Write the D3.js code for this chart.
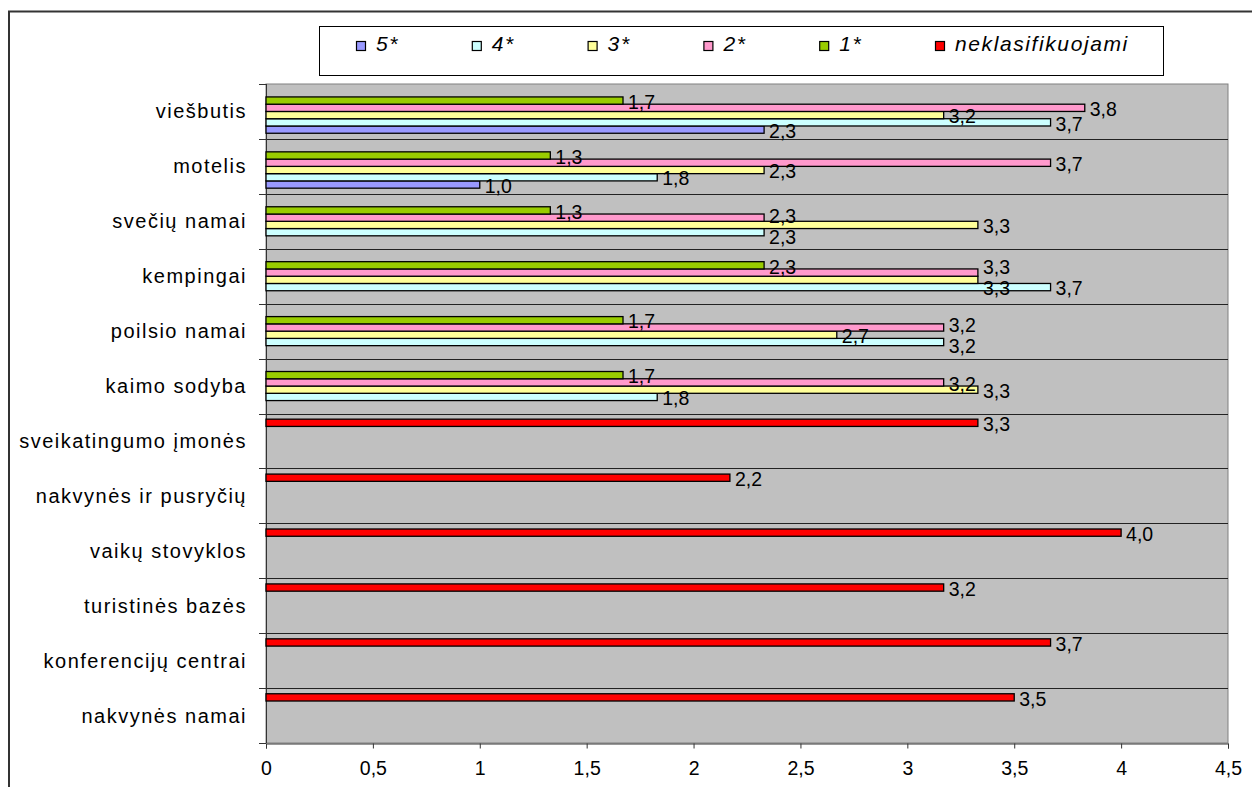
<!DOCTYPE html>
<html>
<head>
<meta charset="utf-8">
<script src="https://cdn.jsdelivr.net/npm/d3@7"></script>
<style>
  html, body { margin: 0; padding: 0; background: #fff; }
  svg { display: block; font-family: "Liberation Sans", Arial, sans-serif; }
</style>
</head>
<body>
<svg id="chart" width="1252" height="787"></svg>
<script>
// ---- data ----
const categories = ["viešbutis", "motelis", "svečių namai", "kempingai", "poilsio namai", "kaimo sodyba",
  "sveikatingumo įmonės", "nakvynės ir pusryčių", "vaikų stovyklos", "turistinės bazės",
  "konferencijų centrai", "nakvynės namai"];
const seriesNames = ["5*", "4*", "3*", "2*", "1*", "neklasifikuojami"];
const seriesColors = ["#9999FF", "#CCFFFF", "#FFFF99", "#FF99CC", "#99CC00", "#FF0000"];
const s5 = [2.33, 1.0, null, null, null, null, null, null, null, null, null, null];
const s4 = [3.67, 1.83, 2.33, 3.67, 3.17, 1.83, null, null, null, null, null, null];
const s3 = [3.17, 2.33, 3.33, 3.33, 2.67, 3.33, null, null, null, null, null, null];
const s2 = [3.83, 3.67, 2.33, 3.33, 3.17, 3.17, null, null, null, null, null, null];
const s1 = [1.67, 1.33, 1.33, 2.33, 1.67, 1.67, null, null, null, null, null, null];
const sN = [null, null, null, null, null, null, 3.33, 2.17, 4.0, 3.17, 3.67, 3.5];
const xTicks = [0, 0.5, 1, 1.5, 2, 2.5, 3, 3.5, 4, 4.5];

const seriesValues = [s5, s4, s3, s2, s1, sN];

// ---- layout ----
const svg = d3.select("#chart");
const plot = { left: 266, right: 1228, top: 84, bottom: 743 };

const x = d3.scaleLinear().domain([0, 4.5]).range([plot.left, plot.right]);
const y = d3.scaleBand().domain(categories).range([plot.top, plot.bottom]).paddingInner(0).paddingOuter(0);
// within each category: top slot = last series (neklasifikuojami), bottom = 5*
const slotOrder = seriesNames.slice().reverse();
const ySub = d3.scaleBand().domain(slotOrder).range([0, y.bandwidth()]).paddingInner(0).paddingOuter(0.78);

const fmt = v => d3.format(".1f")(v).replace(".", ",");

// outer chart border
svg.append("path")
  .attr("d", `M9,800 L9,11.5 L1260,11.5`)
  .attr("fill", "none").attr("stroke", "#333").attr("stroke-width", 2);

// plot background
svg.append("rect")
  .attr("x", plot.left).attr("y", plot.top)
  .attr("width", plot.right - plot.left).attr("height", plot.bottom - plot.top)
  .attr("fill", "#C0C0C0").attr("stroke", "#808080").attr("stroke-width", 1);

// horizontal gridlines at category boundaries
const boundaries = categories.map(c => y(c)).concat([plot.bottom]);
svg.append("g").selectAll("line").data(boundaries.slice(1, -1)).join("line")
  .attr("x1", plot.left).attr("x2", plot.right)
  .attr("y1", d => Math.round(d) + 0.5).attr("y2", d => Math.round(d) + 0.5)
  .attr("stroke", "#222").attr("stroke-width", 1);

// y axis line and ticks
svg.append("line")
  .attr("x1", plot.left + 0.5).attr("x2", plot.left + 0.5)
  .attr("y1", plot.top).attr("y2", plot.bottom)
  .attr("stroke", "#333");
svg.append("g").selectAll("line").data(boundaries).join("line")
  .attr("x1", plot.left - 7).attr("x2", plot.left)
  .attr("y1", d => Math.round(d) + 0.5).attr("y2", d => Math.round(d) + 0.5)
  .attr("stroke", "#333");

// category labels
svg.append("g").selectAll("text").data(categories).join("text")
  .attr("x", 247)
  .attr("y", d => y(d) + y.bandwidth() / 2)
  .attr("dy", "0.35em")
  .attr("text-anchor", "end")
  .attr("font-size", 20)
  .attr("letter-spacing", 1.5)
  .attr("fill", "#000")
  .text(d => d);

// x axis
const xAxis = d3.axisBottom(x).tickValues(xTicks).tickSize(5).tickPadding(13).tickFormat(d => String(d).replace(".", ","));
const gx = svg.append("g").attr("transform", `translate(0,${plot.bottom + 0.5})`).call(xAxis);
gx.select(".domain").attr("stroke", "#333");
gx.selectAll(".tick line").attr("stroke", "#333");
gx.selectAll(".tick text").attr("font-size", 19.5).attr("font-family", "Liberation Sans, Arial, sans-serif").attr("fill", "#000");

// bars
const barData = [];
seriesNames.forEach((s, si) => {
  seriesValues[si].forEach((v, ci) => {
    if (v != null) barData.push({ series: s, si, cat: categories[ci], value: v });
  });
});

svg.append("g").selectAll("rect").data(barData).join("rect")
  .attr("x", x(0))
  .attr("y", d => y(d.cat) + ySub(d.series))
  .attr("width", d => x(d.value) - x(0))
  .attr("height", ySub.bandwidth())
  .attr("fill", d => seriesColors[d.si])
  .attr("stroke", "#000").attr("stroke-width", 1.3);

// value labels with simple dodge inside each category
const valueFont = 19.5;
const labelH = 21;
const labels = barData.map(d => ({
  ...d,
  lx: x(d.value) + 5,
  w: fmt(d.value).length * valueFont * 0.47,
  cy: y(d.cat) + ySub(d.series) + ySub.bandwidth() / 2
}));
categories.forEach(c => {
  const group = labels.filter(l => l.cat === c).sort((a, b) => a.cy - b.cy);
  for (let iter = 0; iter < 60; iter++) {
    let moved = false;
    for (let i = 0; i < group.length; i++) {
      for (let j = i + 1; j < group.length; j++) {
        const a = group[i], b = group[j];
        const xOverlap = a.lx < b.lx + b.w && b.lx < a.lx + a.w;
        const dy = b.cy - a.cy;
        if (xOverlap && dy < labelH) {
          const push = (labelH - dy) / 2 + 0.01;
          a.cy -= push; b.cy += push; moved = true;
        }
      }
    }
    if (!moved) break;
  }
});

svg.append("g").selectAll("text").data(labels).join("text")
  .attr("x", d => d.lx)
  .attr("y", d => d.cy)
  .attr("dy", "0.42em")
  .attr("font-size", valueFont)
  .attr("fill", "#000")
  .text(d => fmt(d.value));

// legend
const legend = svg.append("g");
legend.append("rect")
  .attr("x", 319.5).attr("y", 26.5).attr("width", 844).attr("height", 49)
  .attr("fill", "#fff").attr("stroke", "#000").attr("stroke-width", 1);
const lx = d3.scaleLinear().domain([0, seriesNames.length - 1]).range([356, 935]);
const items = legend.selectAll("g.item").data(seriesNames).join("g").attr("class", "item")
  .attr("transform", (d, i) => `translate(${lx(i)},0)`);
items.append("rect")
  .attr("x", 0.5).attr("y", 41.5).attr("width", 9).attr("height", 9)
  .attr("fill", (d, i) => seriesColors[i]).attr("stroke", "#000").attr("stroke-width", 1.2);
items.append("text")
  .attr("x", 20).attr("y", 51)
  .attr("font-size", 21).attr("font-style", "italic").attr("letter-spacing", 1.6)
  .attr("fill", "#000")
  .text(d => d);
</script>
</body>
</html>
